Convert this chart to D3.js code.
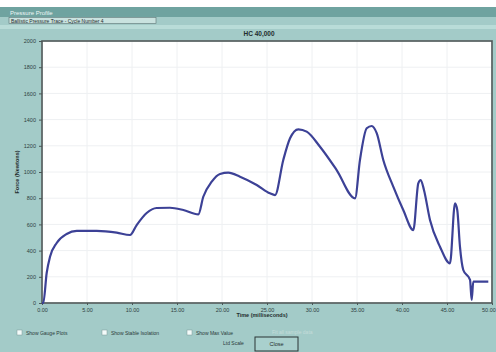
<!DOCTYPE html>
<html>
<head>
<meta charset="utf-8">
<script src="https://cdn.jsdelivr.net/npm/d3@7"></script>
<style>
  html, body { margin: 0; padding: 0; background: #ffffff; }
  svg { display: block; font-family: "Liberation Sans", Arial, sans-serif; }
  .tick text { font-size: 5.5px; fill: #2f3f3f; }
  .axis--y path, .axis--x path { display: none; }
  .axis line { stroke: #4a5656; }
</style>
</head>
<body>
<svg id="chart" width="496" height="352"></svg>
<script>
// values
const timeMs = [0, 0.14, 0.52, 0.89, 1.63, 2.74, 3.86, 6.08, 8.3, 9.78, 10.52, 11.63, 12.74, 14.22, 15.7, 17.37,
  17.92, 18.86, 19.78, 20.7, 22.0, 23.86, 25.33, 25.89, 26.81, 27.56, 28.48, 29.41, 30.89, 32.74, 34.78,
  35.33, 36.08, 36.63, 37.19, 37.92, 39.03, 40.14, 41.26, 41.81, 42.08, 42.44, 43.11, 44.22, 45.33,
  45.89, 46.14, 46.44, 46.81, 47.56, 47.74, 47.92, 49.59];
const force = [0, 0, 229, 353, 458, 527, 550, 550, 537, 519, 595, 687, 725, 727, 710, 677,
  811, 926, 985, 995, 964, 901, 837, 824, 1092, 1257, 1326, 1308, 1193, 1015, 799,
  1092, 1334, 1351, 1296, 1092, 888, 710, 557, 914, 939, 863, 634, 430, 303,
  761, 710, 430, 252, 176, 23, 163, 163];
const xTicks = [0, 5, 10, 15, 20, 25, 30, 35, 40, 45, 50];
const yTicks = [0, 200, 400, 600, 800, 1000, 1200, 1400, 1600, 1800, 2000];
const checkLabels = ['Show Gauge Plots', 'Show Stable Isolation', 'Show Max Value'];

const svg = d3.select('#chart'),
    margin = {top: 41, right: 4, bottom: 49, left: 42},
    width = +svg.attr('width') - margin.left - margin.right,
    height = +svg.attr('height') - margin.top - margin.bottom;

// window chrome
svg.append('rect').attr('x', 0).attr('y', 7).attr('width', 496).attr('height', 345).attr('fill', '#a3cbc8');
svg.append('rect').attr('x', 0).attr('y', 7).attr('width', 496).attr('height', 10).attr('fill', '#6fa3a0');
svg.append('rect').attr('x', 0).attr('y', 25).attr('width', 496).attr('height', 4).attr('fill', '#b9dcd8');
svg.append('text').attr('x', 10).attr('y', 14.5).attr('font-size', 6).attr('fill', '#eef6f5').text('Pressure Profile');
svg.append('rect').attr('x', 9).attr('y', 17.5).attr('width', 147).attr('height', 6)
    .attr('fill', '#c9e2df').attr('stroke', '#5d7473').attr('stroke-width', 0.6);
svg.append('text').attr('x', 11).attr('y', 22.5).attr('font-size', 5).attr('fill', '#1f2d2d')
    .text('Ballistic Pressure Trace - Cycle Number 4');
svg.append('text').attr('x', 259).attr('y', 36).attr('text-anchor', 'middle').attr('font-size', 6.5)
    .attr('font-weight', 'bold').attr('fill', '#1f2d2d').text('HC 40,000');

const x = d3.scaleLinear().domain([0, 50]).range([0, width]),
    y = d3.scaleLinear().domain([0, 2000]).range([height, 0]);

const g = svg.append('g').attr('transform', 'translate(' + margin.left + ',' + margin.top + ')');

g.append('rect').attr('width', width).attr('height', height).attr('fill', '#ffffff');

// faint grid
g.append('g').selectAll('line').data(xTicks).enter().append('line')
    .attr('x1', d => x(d)).attr('x2', d => x(d)).attr('y1', 0).attr('y2', height)
    .attr('stroke', '#eef0f2').attr('stroke-width', 1);
g.append('g').selectAll('line').data(yTicks).enter().append('line')
    .attr('x1', 0).attr('x2', width).attr('y1', d => y(d)).attr('y2', d => y(d))
    .attr('stroke', '#eef0f2').attr('stroke-width', 1);

const xAxis = g.append('g')
    .attr('class', 'axis axis--x')
    .attr('transform', 'translate(0,' + height + ')')
    .call(d3.axisBottom(x).tickValues(xTicks).tickSize(2).tickFormat(d3.format('.2f')));
// last label sits against the window edge
xAxis.selectAll('.tick:last-of-type text').attr('text-anchor', 'end').attr('dx', '0.6em');

g.append('g')
    .attr('class', 'axis axis--y')
    .call(d3.axisLeft(y).tickValues(yTicks).tickSize(3).tickFormat(d3.format('d')));

g.append('rect').attr('width', width).attr('height', height).attr('fill', 'none')
    .attr('stroke', '#4b5555').attr('stroke-width', 1.6);

const line = d3.line()
    .x((d, i) => x(timeMs[i]))
    .y(d => y(d))
    .curve(d3.curveMonotoneX);

g.append('path')
    .datum(force)
    .attr('fill', 'none')
    .attr('stroke', '#3c4196')
    .attr('stroke-width', 2.2)
    .attr('stroke-linejoin', 'round')
    .attr('d', line);

// axis titles
svg.append('text').attr('x', 262).attr('y', 317).attr('text-anchor', 'middle').attr('font-size', 5.5)
    .attr('font-weight', 'bold').attr('fill', '#1f2d2d').text('Time (milliseconds)');
svg.append('text').attr('transform', 'translate(19,172) rotate(-90)').attr('text-anchor', 'middle')
    .attr('font-size', 5.5).attr('font-weight', 'bold').attr('fill', '#1f2d2d').text('Force (Newtons)');

// controls
const cb = svg.append('g').selectAll('g').data(checkLabels).enter().append('g')
    .attr('transform', (d, i) => 'translate(' + (17 + i * 85) + ',330)');
cb.append('rect').attr('width', 5).attr('height', 5).attr('fill', '#f4fbfa').attr('stroke', '#7d9896').attr('stroke-width', 0.5);
cb.append('text').attr('x', 9).attr('y', 4.5).attr('font-size', 5).attr('fill', '#2a3a3a').text(d => d);

svg.append('text').attr('x', 272).attr('y', 334).attr('font-size', 5).attr('fill', '#c3dcd9').text('Fit all sample data');
svg.append('text').attr('x', 223).attr('y', 345).attr('font-size', 5).attr('fill', '#2a3a3a').text('Ltd Scale');
svg.append('rect').attr('x', 255).attr('y', 337).attr('width', 43).attr('height', 14)
    .attr('fill', '#a9d0cd').attr('stroke', '#2b3434').attr('stroke-width', 1);
svg.append('text').attr('x', 276.5).attr('y', 346).attr('text-anchor', 'middle').attr('font-size', 5.5)
    .attr('fill', '#1f2d2d').text('Close');
</script>
</body>
</html>
